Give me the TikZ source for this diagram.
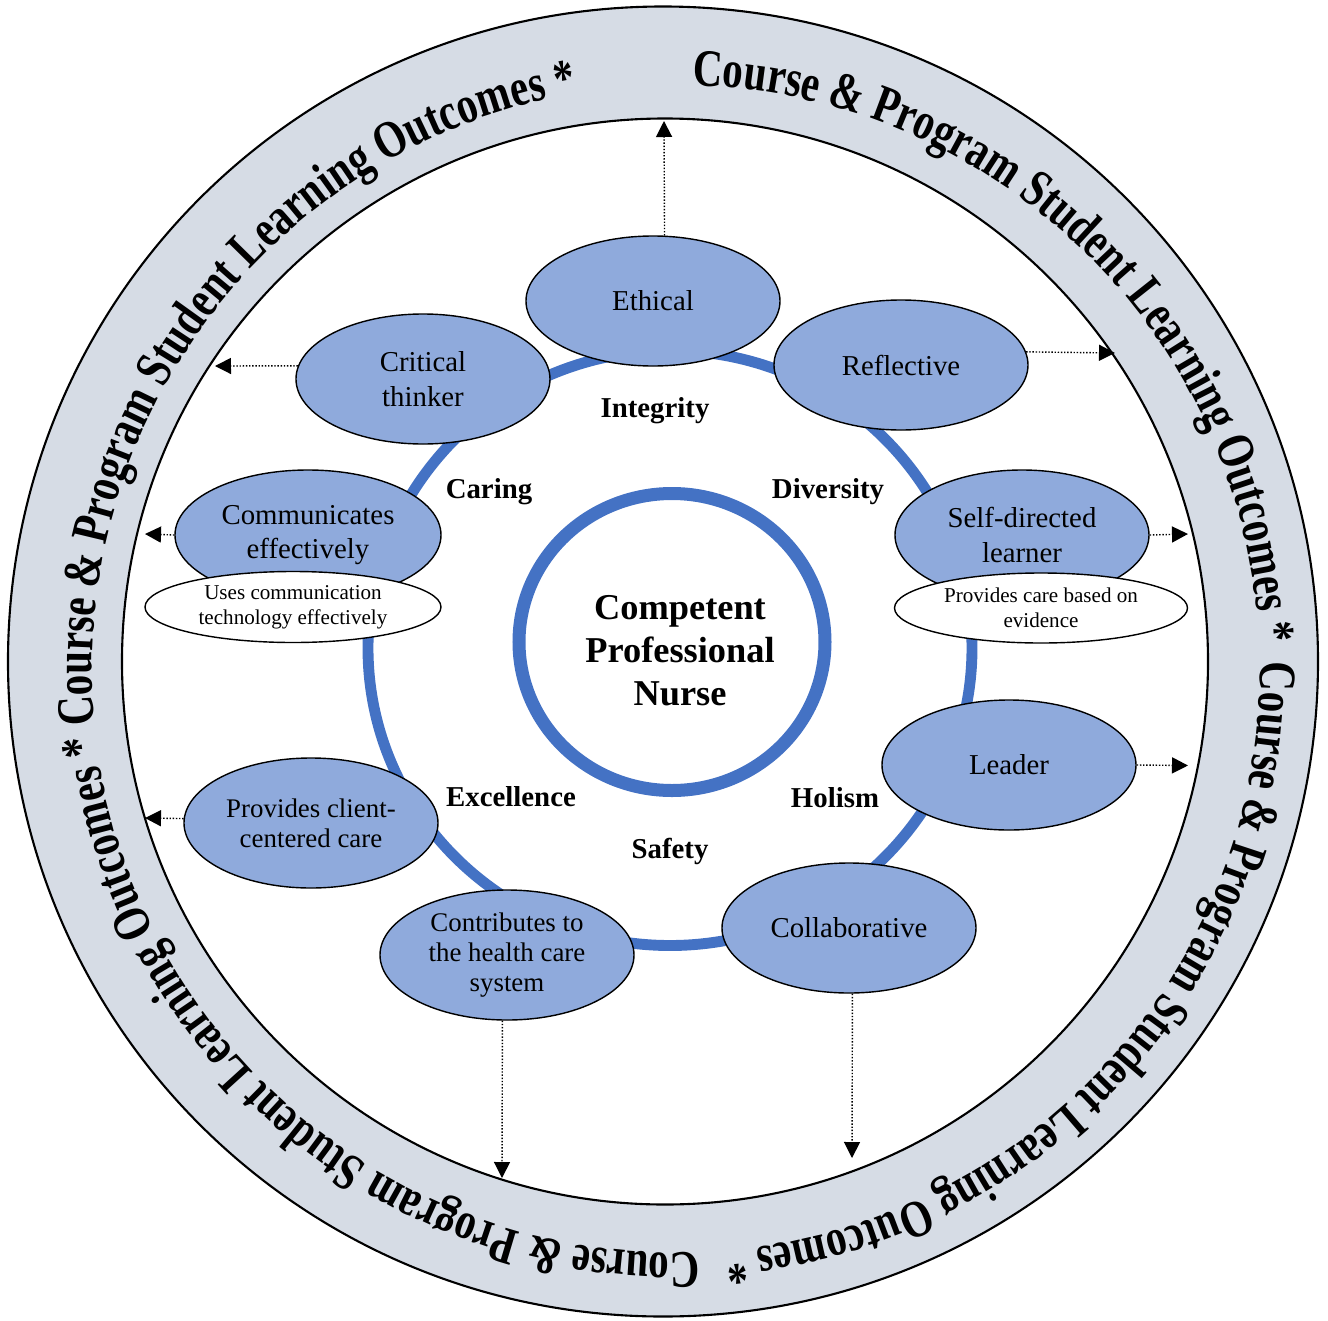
\documentclass[tikz,border=0pt]{standalone}
\usepackage{fontspec}
\setmainfont{Liberation Serif}
\newfontfamily\ringfont{Liberation Serif}[FakeStretch=0.78]
\newcommand\ringtype{\ringfont\bfseries\fontsize{30}{32}\selectfont}
\usepackage{tikz}
\usetikzlibrary{shapes.geometric,arrows.meta,decorations.text}
\definecolor{bandgray}{HTML}{D6DCE5}
\definecolor{traitblue}{HTML}{8FAADC}
\definecolor{ringblue}{HTML}{4472C4}

\begin{document}
\begin{tikzpicture}[
    trait/.style={ellipse,draw,thick,fill=traitblue,inner sep=0pt,align=center,
      minimum width=5.08cm,minimum height=2.6cm,font=\fontsize{16.4}{19.8}\selectfont},
    traitsmall/.style={trait,font=\fontsize{15.3}{17.3}\selectfont},
    subtrait/.style={ellipse,draw,thick,fill=white,inner sep=0pt,align=center,
      font=\fontsize{12}{14.2}\selectfont},
    corevalue/.style={font=\bfseries\fontsize{16.4}{19.8}\selectfont}
  ]
  \useasboundingbox (-13.28,-13.16) rectangle (13.28,13.24);
  \filldraw[fill=bandgray,very thick,even odd rule]
    (-0.02,0.01) circle[radius=13.1] (0.02,0.01) circle[radius=10.86];
  \begin{scope}[shift={(0.24,-0.14)}]
    \ringtype
    \foreach \a in {88.4,0.7,-87.7,-174.5}
      \path[decorate,decoration={text along path,
        text={Course {\&} Program Student Learning Outcomes *}}]
        (\a:11.68) arc[start angle=\a,delta angle=-95,radius=11.68];
  \end{scope}

  \draw[ringblue,line width=6.2pt] (0.12,0.28) ellipse[x radius=6.04,y radius=5.95];
  \draw[ringblue,line width=7.4pt] (0.16,0.4) ellipse[x radius=3.06,y radius=2.97];
  \node[font=\bfseries\fontsize{20.7}{24.4}\selectfont,align=center] at (0.32,0.22) (core)
    {Competent\\Professional\\Nurse};

  \node[trait] at (-0.22,7.22) (eth) {Ethical};
  \node[trait] at (-4.82,5.66) (crit) {Critical\\thinker};
  \node[trait] at (4.74,5.94) (refl) {Reflective};
  \node[trait,minimum width=5.32cm] at (-7.12,2.54) (comm) {Communicates\\effectively};
  \node[trait] at (7.16,2.54) (self) {Self-directed\\learner};
  \node[trait] at (6.9,-2.06) (lead) {Leader};
  \node[trait] at (3.7,-5.32) (coll) {Collaborative};
  \node[traitsmall] at (-7.06,-3.22) (client) {Provides client-\\centered care};
  \node[traitsmall] at (-3.14,-5.86) (contrib) {Contributes to\\the health care\\system};
  \node[subtrait,minimum width=5.92cm,minimum height=1.42cm] at (-7.42,1.1) (tech)
    {Uses communication\\technology effectively};
  \node[subtrait,minimum width=5.86cm,minimum height=1.4cm] at (7.54,1.08) (evid)
    {Provides care based on\\evidence};

  \node[corevalue] at (-0.18,5.02) (integ) {Integrity};
  \node[corevalue] at (-3.5,3.4) (caring) {Caring};
  \node[corevalue] at (3.28,3.4) (divers) {Diversity};
  \node[corevalue] at (-3.06,-2.7) (excel) {Excellence};
  \node[corevalue] at (3.42,-2.72) (holism) {Holism};
  \node[corevalue] at (0.12,-3.78) (safety) {Safety};

  \coordinate (etho) at (0,10.82);
  \coordinate (crito) at (-8.98,5.92);
  \coordinate (reflo) at (9.02,6.18);
  \coordinate (commo) at (-10.38,2.56);
  \coordinate (selfo) at (10.48,2.56);
  \coordinate (leado) at (10.48,-2.07);
  \coordinate (cliento) at (-10.38,-3.12);
  \coordinate (contribo) at (-3.24,-10.32);
  \coordinate (collo) at (3.76,-9.92);
  \path[->,thick,densely dotted,>={Triangle[length=3.2mm,width=3.2mm]}]
    (eth.80) edge (etho)
    (crit.174) edge (crito)
    (refl.6) edge (reflo)
    (comm.west) edge (commo)
    (self.east) edge (selfo)
    (lead.east) edge (leado)
    (client.178) edge (cliento)
    (contrib.-94) edge (contribo)
    (coll.-87) edge (collo);
\end{tikzpicture}
\end{document}
